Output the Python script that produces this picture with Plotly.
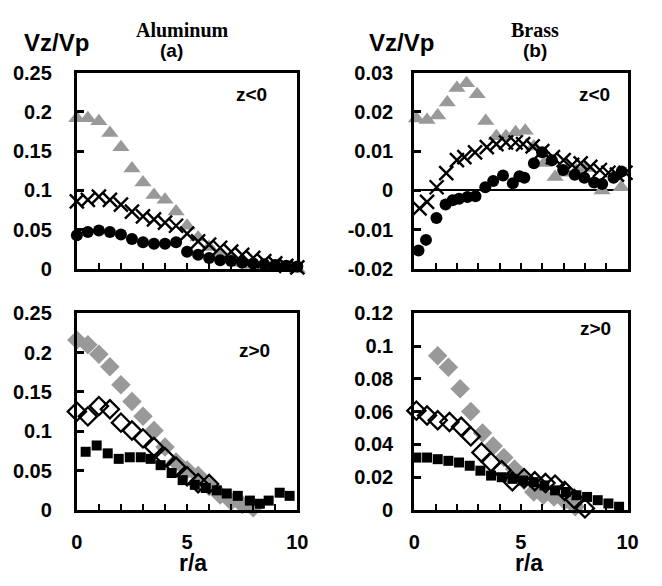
import plotly.graph_objects as go

# --- data ---
# (a) Aluminum, z<0
x_a = [i * 0.5 for i in range(21)]
tri_a = [0.192, 0.192, 0.188, 0.173, 0.155, 0.128, 0.110, 0.094, 0.088, 0.073, 0.055,
         0.040, 0.028, 0.018, 0.012, 0.008, 0.005, 0.003, 0.002, 0.001, 0.0]
cross_a = [0.086, 0.088, 0.092, 0.088, 0.082, 0.073, 0.067, 0.063, 0.059, 0.055, 0.045,
           0.035, 0.031, 0.027, 0.022, 0.018, 0.014, 0.010, 0.007, 0.004, 0.002]
circ_a = [0.043, 0.047, 0.049, 0.047, 0.044, 0.038, 0.034, 0.032, 0.032, 0.034, 0.022,
          0.018, 0.014, 0.011, 0.010, 0.008, 0.007, 0.006, 0.005, 0.004, 0.003]

# (b) Brass, z<0
tri_b_x = [0.1, 0.6, 1.1, 1.55, 2.0, 2.45, 2.95, 3.35, 3.85, 4.3, 4.75, 5.2, 5.6, 6.1,
           6.6, 7.1, 7.6, 8.0, 8.8, 9.7]
tri_b = [0.0183, 0.0179, 0.0191, 0.0224, 0.0261, 0.0273, 0.0245, 0.0177, 0.0138, 0.0138,
         0.0148, 0.0152, 0.0112, 0.0070, 0.0034, 0.0045, 0.0050, 0.0057, 0.0, 0.0008]
cross_b_x = [0.25, 0.6, 1.05, 1.5, 2.0, 2.35, 2.85, 3.4, 3.85, 4.3, 4.75, 5.1, 5.55, 6.0,
             6.5, 7.0, 7.4, 7.8, 8.25, 8.7, 9.1, 9.5, 9.9]
cross_b = [-0.0046, -0.0029, 0.0008, 0.0044, 0.0077, 0.0085, 0.0097, 0.0110, 0.0118, 0.0122,
           0.0122, 0.0118, 0.0112, 0.0100, 0.0085, 0.0077, 0.0065, 0.0069, 0.0060, 0.0052,
           0.0045, 0.0040, 0.0045]
circ_b_x = [0.2, 0.55, 1.04, 1.47, 1.8, 2.1, 2.49, 2.87, 3.33, 3.7, 4.16, 4.62, 4.93, 5.16,
            5.61, 5.99, 6.45, 6.98, 7.52, 7.97, 8.43, 8.81, 9.34, 9.72]
circ_b = [-0.0153, -0.0126, -0.0070, -0.0036, -0.0025, -0.0021, -0.0017, -0.0015, 0.0008,
          0.0024, 0.0038, 0.0018, 0.0036, 0.0032, 0.0069, 0.0097, 0.0077, 0.0052, 0.0040,
          0.0032, 0.0020, 0.0016, 0.0032, 0.0048]

# (a) Aluminum, z>0
gdia_a_x = [i * 0.5 for i in range(17)]
gdia_a = [0.216, 0.210, 0.198, 0.182, 0.159, 0.138, 0.119, 0.101, 0.080, 0.061, 0.051,
          0.044, 0.030, 0.019, 0.011, 0.007, 0.003]
odia_a_x = [i * 0.5 for i in range(13)]
odia_a = [0.125, 0.119, 0.132, 0.128, 0.111, 0.101, 0.091, 0.080, 0.067, 0.055, 0.043,
          0.034, 0.033]
sq_a_x = [0.4, 0.9, 1.4, 1.9, 2.4, 2.9, 3.35, 3.8, 4.3, 4.8, 5.35, 5.85, 6.35, 6.8, 7.3,
          7.85, 8.3, 8.7, 9.2, 9.65]
sq_a = [0.074, 0.082, 0.072, 0.065, 0.067, 0.067, 0.065, 0.057, 0.047, 0.038, 0.032, 0.028,
        0.025, 0.021, 0.018, 0.012, 0.008, 0.012, 0.022, 0.018]

# (b) Brass, z>0
gdia_b_x = [1.1, 1.6, 2.15, 2.65, 3.2, 3.7, 4.2, 4.7, 5.15, 5.6, 6.05, 6.55, 7.05, 7.55]
gdia_b = [0.094, 0.087, 0.074, 0.060, 0.047, 0.039, 0.032, 0.025, 0.018, 0.011, 0.009,
          0.008, 0.0057, 0.002]
odia_b_x = [0.1, 0.6, 1.1, 1.65, 2.2, 2.65, 3.15, 3.6, 4.1, 4.6, 5.15, 5.65, 6.15, 6.6,
            7.05, 7.5, 8.0]
odia_b = [0.0606, 0.0576, 0.0547, 0.0537, 0.0508, 0.0449, 0.0351, 0.0292, 0.0243, 0.0175,
          0.0194, 0.0175, 0.0165, 0.0155, 0.0116, 0.0067, 0.001]
sq_b_x = [0.1 + i * 0.5 for i in range(20)]
sq_b = [0.032, 0.032, 0.031, 0.030, 0.029, 0.027, 0.024, 0.021, 0.020, 0.019, 0.018, 0.017,
        0.015, 0.012, 0.011, 0.009, 0.008, 0.006, 0.004, 0.002]

GRAY = "#999999"
W, H = 662, 586
ARIAL = "Liberation Sans, Arial, sans-serif"
TIMES = "Liberation Serif, Times New Roman, serif"


def px(x, y):
    return x / W, 1 - y / H


fig = go.Figure()


def add(xs, ys, ax, symbol, color, size, lw=0, lc=None):
    fig.add_trace(go.Scatter(
        x=xs, y=ys, mode="markers", xaxis="x" + ax, yaxis="y" + ax, cliponaxis=False,
        marker=dict(symbol=symbol, color=color, size=size,
                    line=dict(width=lw, color=lc or color)),
        showlegend=False, hoverinfo="skip"))


# top left
add(x_a, tri_a, "", "triangle-up", GRAY, 15)
add(x_a, circ_a, "", "circle", "black", 12)
add(x_a, cross_a, "", "x-thin", "black", 14, 2.4, "black")
# top right
add(tri_b_x, tri_b, "2", "triangle-up", GRAY, 15)
add(circ_b_x, circ_b, "2", "circle", "black", 12)
add(cross_b_x, cross_b, "2", "x-thin", "black", 14, 2.4, "black")
# bottom left
add(gdia_a_x, gdia_a, "3", "diamond", GRAY, 15)
add(sq_a_x, sq_a, "3", "square", "black", 10)
add(odia_a_x, odia_a, "3", "diamond-open", "black", 14, 2.3, "black")
# bottom right
add(gdia_b_x, gdia_b, "4", "diamond", GRAY, 15)
add(sq_b_x, sq_b, "4", "square", "black", 10)
add(odia_b_x, odia_b, "4", "diamond-open", "black", 14, 2.3, "black")

xl, xr = 72.7 / W, 299 / W
bl, br = 419 / W, 638 / W
top_y = [1 - 268 / H, 1 - 64 / H]
bot_y = [1 - 518.5 / H, 1 - 314 / H]

tick_font = dict(family=ARIAL, size=20, color="black", weight="bold")


def xaxis(domain, anchor, labels):
    return dict(domain=domain, anchor=anchor, range=[0, 10], showgrid=False, zeroline=False,
                showline=True, mirror=True, linecolor="black", linewidth=3,
                ticks="inside", ticklen=6, tickwidth=2, tickcolor="black",
                tickvals=list(range(11)),
                ticktext=[("0" if i == 0 else "5" if i == 5 else "10" if i == 10 else "")
                          if labels else "" for i in range(11)],
                tickfont=tick_font, ticklabelstandoff=12, fixedrange=True)


def yaxis(domain, anchor, rng, vals, texts, zero=False, standoff=16):
    return dict(domain=domain, anchor=anchor, range=rng, showgrid=False,
                zeroline=zero, zerolinecolor="black", zerolinewidth=2,
                showline=True, mirror=True, linecolor="black", linewidth=3,
                ticks="inside", ticklen=7, tickwidth=2.5, tickcolor="black",
                tickvals=vals, ticktext=texts, tickfont=tick_font,
                ticklabelstandoff=standoff, fixedrange=True)


fig.update_layout(
    width=W, height=H, margin=dict(l=0, r=0, t=0, b=0),
    paper_bgcolor="white", plot_bgcolor="white",
    xaxis=xaxis([xl, xr], "y", False),
    yaxis=yaxis(top_y, "x", [0, 0.25], [0, 0.05, 0.1, 0.15, 0.2, 0.25],
                ["0", "0.05", "0.1", "0.15", "0.2", "0.25"], standoff=18),
    xaxis2=xaxis([bl, br], "y2", False),
    yaxis2=yaxis(top_y, "x2", [-0.02, 0.03], [-0.02, -0.01, 0, 0.01, 0.02, 0.03],
                 ["-0.02", "-0.01", "0", "0.01", "0.02", "0.03"], zero=True, standoff=14),
    xaxis3=xaxis([xl, xr], "y3", True),
    yaxis3=yaxis(bot_y, "x3", [0, 0.25], [0, 0.05, 0.1, 0.15, 0.2, 0.25],
                 ["0", "0.05", "0.1", "0.15", "0.2", "0.25"], standoff=18),
    xaxis4=xaxis([bl, br], "y4", True),
    yaxis4=yaxis(bot_y, "x4", [0, 0.12], [0, 0.02, 0.04, 0.06, 0.08, 0.1, 0.12],
                 ["0", "0.02", "0.04", "0.06", "0.08", "0.1", "0.12"], standoff=14),
)


def label(text, x, y, size=20, family=ARIAL):
    ax, ay = px(x, y)
    fig.add_annotation(text=text, x=ax, y=ay, xref="paper", yref="paper",
                       xanchor="center", yanchor="middle", showarrow=False,
                       font=dict(family=family, size=size, color="black", weight="bold"))


label("Vz/Vp", 52, 33, 24)
label("Vz/Vp", 406, 33, 24)
label("Aluminum", 181, 20, 20, TIMES)
label("(a)", 170, 41, 19)
label("Brass", 543, 20, 20, TIMES)
label("(b)", 543, 41, 19)
label("z&lt;0", 252, 87, 19)
label("z&lt;0", 604, 87, 19)
label("z&gt;0", 255, 353, 19)
label("z&gt;0", 605, 330, 19)
label("r/a", 192, 574, 23)
label("r/a", 537, 574, 23)

# drop the page's default body margin so the figure fills the window exactly
fig.write_html("out.html", config={"displayModeBar": False},
               post_script="document.body.style.margin='0';")
